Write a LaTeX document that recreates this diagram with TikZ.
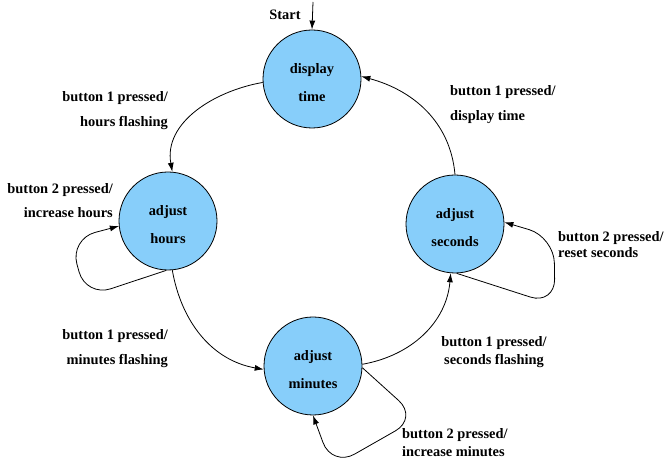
\documentclass[tikz,border=0pt]{standalone}
\usepackage{fontspec}
\setmainfont{Liberation Serif}
\usepackage{xcolor}
\usetikzlibrary{positioning,calc,arrows.meta}
\definecolor{statefill}{RGB}{135,206,250}
\newcommand{\toprule}{\rule{0pt}{18pt}}

\begin{document}
\begin{tikzpicture}[auto, x=1pt, y=1pt,
    state/.style={circle, draw, line width=0.8pt, fill=statefill, minimum size=98pt, inner sep=0pt,
        align=center, font=\fontsize{14.4}{28}\selectfont\bfseries},
    lbl/.style={font=\fontsize{14.4}{16}\selectfont\bfseries, inner sep=0pt},
    edge/.style={line width=0.8pt, -{Latex[length=9pt,width=6pt]}},
    loop/.style={edge, rounded corners=26pt}]
    \useasboundingbox (0,0) rectangle (665,463);

    % States
    \node[state] (disp) at (312,384) {\toprule display\\time};
    \node[state] (hours) at (168,242) {\toprule adjust\\hours};
    \node[state] (secs) at (455,239) {\toprule adjust\\seconds};
    \node[state] (mins) at (313,97) {\toprule adjust\\minutes};

    % Start
    \coordinate (start) at (313,461);
    \node[lbl] (startlbl) at (285,448) {Start};
    \draw[edge] (start) -- (disp.north);

    % Button 1
    \draw[edge] (disp.184) to[out=190, in=100] (hours.85);
    \draw[edge] (hours.-85) to[out=-80, in=170] (mins.184);
    \draw[edge] (mins.2) to[out=10, in=-95] (secs.-95);
    \draw[edge] (secs.90) to[out=95, in=-15] (disp.3);

    % Button 2 loops
    \coordinate (hl1) at (86,166);
    \coordinate (hl2) at (70,224);
    \coordinate (sl1) at (555,158);
    \coordinate (sl2) at (554,226);
    \coordinate (ml1) at (418,45);
    \coordinate (ml2) at (332,-4);
    \draw[loop] (hours.-92) -- (hl1) -- (hl2) -- (hours.186);
    \draw[loop] (secs.-88) -- (sl1) -- (sl2) -- (secs.2);
    \draw[loop] (mins.-2) -- (ml1) -- (ml2) -- (mins.-90);

    % Labels
    \node[lbl, anchor=east, align=right] (lhours) at (168,352) {button 1 pressed/\\[9pt]hours flashing};
    \node[lbl, anchor=east, align=right] (lmins) at (168,114) {button 1 pressed/\\[9pt]minutes flashing};
    \node[lbl, align=center] (lsecs) at (494,111) {button 1 pressed/\\[2pt]seconds flashing};
    \node[lbl, anchor=west, align=left] (ldisp) at (450,358) {button 1 pressed/\\[9pt]display time};
    \node[lbl, anchor=east, align=right] (lhloop) at (113,262) {button 2 pressed/\\[8pt]increase hours};
    \node[lbl, anchor=west, align=left] (lsloop) at (558,218) {button 2 pressed/\\[0pt]reset seconds};
    \node[lbl, anchor=west, align=left] (lmloop) at (402,20) {button 2 pressed/\\[2pt]increase minutes};
\end{tikzpicture}
\end{document}
